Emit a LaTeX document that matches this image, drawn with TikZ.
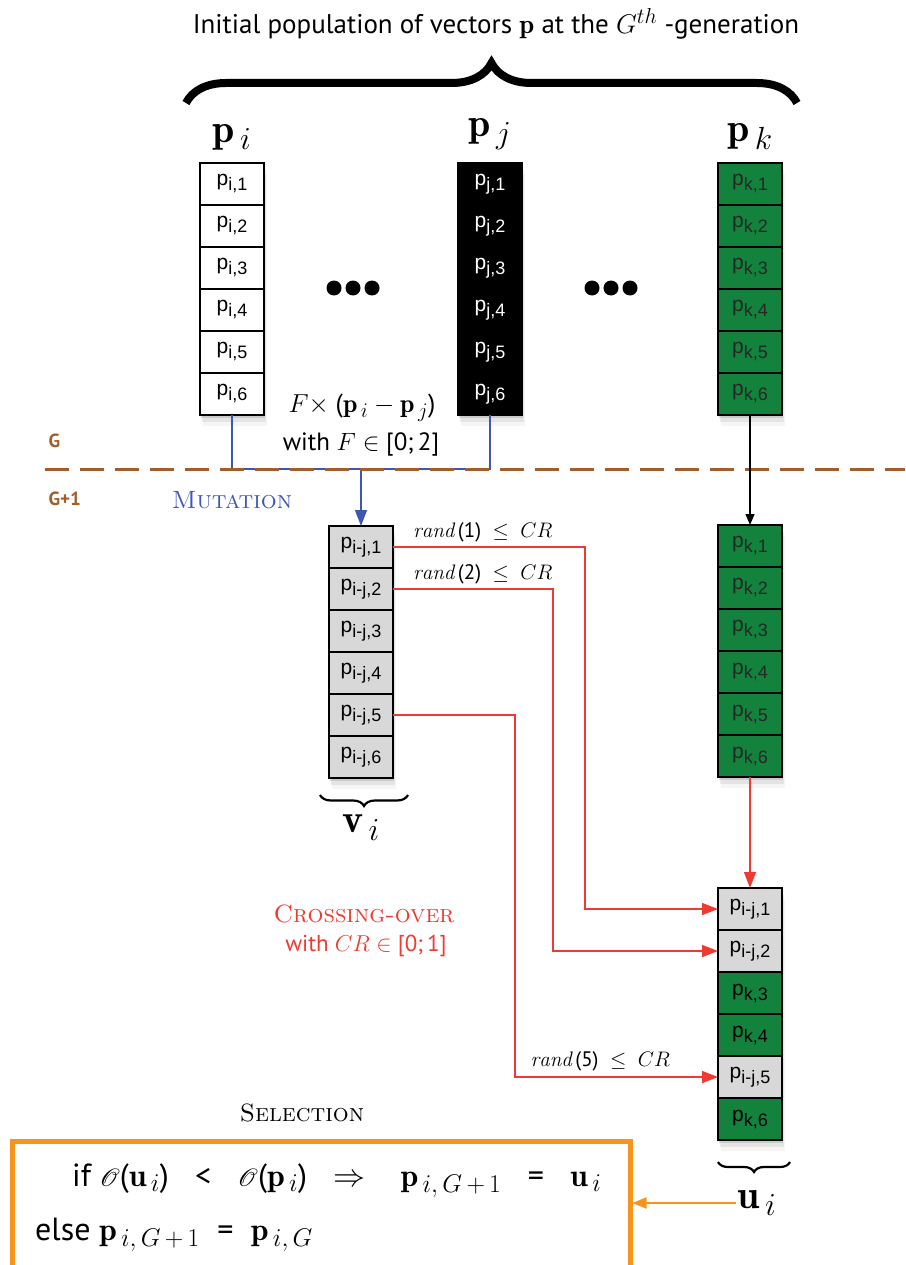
\RequirePackage{fix-cm}
\documentclass[tikz,border=0pt]{standalone}
\usepackage{amsmath}
\usepackage{mathrsfs}
\usepackage{fontspec}
\setsansfont{PT Sans}
\newfontfamily\cellfont{Liberation Sans}
\usepackage{xcolor}
\usepackage{tikz}
\usetikzlibrary{arrows.meta,positioning,calc,fit,backgrounds,shadows,decorations.pathreplacing}
\renewcommand{\defaultscriptratio}{.8}
\definecolor{genbrown}{RGB}{164,92,40}
\definecolor{mutblue}{RGB}{62,88,178}
\definecolor{crossred}{RGB}{238,58,48}
\definecolor{selorange}{RGB}{247,148,30}
\definecolor{popgreen}{RGB}{18,130,60}
\definecolor{cellgray}{RGB}{216,216,216}
\newcommand{\comp}[2]{p\raisebox{-5pt}{\fontsize{18}{18}\selectfont #1,#2}}
\newcommand{\randle}[1]{$\mathit{rand}$\,(#1)\; $\le$\; $CR$}
\tikzset{
  cell/.style={rectangle, draw=black, line width=1.3pt, outer sep=0pt, inner sep=0pt,
    minimum width=64pt, minimum height=42pt, font=\cellfont\fontsize{21}{21}\selectfont},
  wcell/.style={cell, fill=white},
  bcell/.style={cell, fill=black, text=white},
  gcell/.style={cell, fill=popgreen, text=black!85},
  lcell/.style={cell, fill=cellgray},
  colshade/.style={inner sep=0pt, outer sep=0pt, fill=white,
    drop shadow={shadow xshift=1pt, shadow yshift=-3pt, opacity=.25},
    drop shadow={shadow xshift=2pt, shadow yshift=-7pt, opacity=.15},
    drop shadow={shadow xshift=3pt, shadow yshift=-11pt, opacity=.08}},
  veclabel/.style={font=\fontsize{40}{40}\selectfont, inner sep=1pt},
  bigbrace/.style={decorate, decoration={brace, amplitude=#1}},
  mut/.style={draw=mutblue, line width=1.3pt},
  mutarrow/.style={mut, -{Triangle[length=16pt, width=12pt]}},
  xover/.style={draw=crossred, line width=1.3pt, -{Triangle[length=16pt, width=12pt]}},
  pass/.style={draw=black, line width=1.3pt, -{Triangle[length=11pt, width=9pt]}},
  selarrow/.style={draw=selorange, line width=2pt, -{Triangle[length=14pt, width=11pt]}},
  cond/.style={font=\sffamily\fontsize{21}{21}\selectfont, inner sep=1pt},
  gen/.style={font=\sffamily\bfseries\fontsize{19}{19}\selectfont, text=genbrown},
  phase/.style={font=\fontsize{25}{25}\selectfont, inner sep=1pt},
  gensep/.style={draw=genbrown, line width=3pt, dash pattern=on 24pt off 11pt},
  selbox/.style={rectangle, draw=selorange, line width=4.5pt, minimum width=618pt,
    minimum height=200pt},
  rule/.style={font=\sffamily\fontsize{32}{32}\selectfont, inner sep=0pt},
}

\begin{document}
\begin{tikzpicture}[x=1pt, y=-1pt]
  \useasboundingbox (0,0) rectangle (905,1265);
  \clip (0,0) rectangle (905,1265);

  % generation G
  \node[wcell] (pi1) at (232,184) {\comp{i}{1}};
  \node[bcell] (pj1) at (490,184) {\comp{j}{1}};
  \node[gcell] (pk1) at (750,184) {\comp{k}{1}};
  \foreach \n [remember=\n as \m (initially 1)] in {2,...,6} {
    \node[wcell, below=0pt of pi\m] (pi\n) {\comp{i}{\n}};
    \node[bcell, below=0pt of pj\m] (pj\n) {\comp{j}{\n}};
    \node[gcell, below=0pt of pk\m] (pk\n) {\comp{k}{\n}};
  }
  \node[veclabel, above=12pt of pi1] (pilab) {$\mathbf{p}_{\,i}$};
  \node[veclabel, above=12pt of pj1] (pjlab) {$\mathbf{p}_{\,j}$};
  \node[veclabel, above=12pt of pk1] (pklab) {$\mathbf{p}_{\,k}$};
  \foreach \dx in {-19,0,19} {
    \fill (353+\dx,288) circle (7.5pt);
    \fill (611+\dx,288) circle (7.5pt);
  }
  \node[font=\sffamily\fontsize{27}{27}\selectfont] (title) at (496,24)
    {Initial population of vectors $\mathbf{p}$ at the $G^{th}$ -generation};
  \draw[bigbrace=40pt, line width=8pt] (186,103) -- (797,103);

  % generation G+1
  \node[lcell] (vi1) at (361,547) {\comp{i-j}{1}};
  \node[gcell] (qk1) at (750,546) {\comp{k}{1}};
  \foreach \n [remember=\n as \m (initially 1)] in {2,...,6} {
    \node[lcell, below=0pt of vi\m] (vi\n) {\comp{i-j}{\n}};
    \node[gcell, below=0pt of qk\m] (qk\n) {\comp{k}{\n}};
  }
  \node[lcell] (ui1) at (750,909) {\comp{i-j}{1}};
  \foreach \n/\fc/\ix [remember=\n as \m (initially 1)] in
      {2/cellgray/i-j, 3/popgreen/k, 4/popgreen/k, 5/cellgray/i-j, 6/popgreen/k}
    \node[cell, fill=\fc, below=0pt of ui\m] (ui\n) {\comp{\ix}{\n}};

  \begin{scope}[on background layer]
    \foreach \c in {pi,pj,pk,vi,qk,ui}
      \node[colshade, fit=(\c1)(\c6)] {};
  \end{scope}

  % mutation
  \coordinate (genline) at (0,469);
  \coordinate (mutjoin) at (vi1.north |- genline);
  \draw[mut] (pi6.south) |- (mutjoin) -| (pj6.south);
  \draw[mutarrow] (mutjoin) -- (vi1.north);
  \node[cond, font=\sffamily\fontsize{26}{26}\selectfont] (scalef) at (362,408)
    {$F \times$ ($\mathbf{p}_{\,i} - \mathbf{p}_{\,j}$)};
  \node[cond, font=\sffamily\fontsize{25}{25}\selectfont] (scalefr) at (361,444)
    {with $F \in$ [0;\,2]};
  \coordinate (sepL) at (45,469);
  \coordinate (sepR) at (905,469);
  \draw[gensep] (sepL) -- (sepR);
  \node[gen, anchor=west] (glab) at (45,441) {G};
  \node[gen, anchor=west] (g1lab) at (45,499) {G+1};
  \node[phase, text=mutblue] (mutlab) at (232,500) {\textsc{Mutation}};
  \draw[pass] (pk6.south) -- (qk1.north);

  % crossing-over
  \draw[xover] (vi1.east) -| ([xshift=-133pt]ui1.west) -- (ui1.west);
  \draw[xover] (vi2.east) -| ([xshift=-165pt]ui2.west) -- (ui2.west);
  \draw[xover] (vi5.east) -| ([xshift=-203pt]ui5.west)
    -- node[cond, above=4pt, pos=0.42] (cr5) {\randle{5}} (ui5.west);
  \draw[xover] (qk6.south) -- (ui1.north);
  \node[cond, anchor=south west] (cr1) at ([xshift=19pt, yshift=4pt]vi1.east) {\randle{1}};
  \node[cond, anchor=south west] (cr2) at ([xshift=19pt, yshift=4pt]vi2.east) {\randle{2}};
  \node[phase, text=crossred, inner sep=0pt] (xlab) at (364,914) {\textsc{Crossing-over}};
  \node[cond, text=crossred, inner sep=0pt, font=\sffamily\fontsize{23}{23}\selectfont]
    (xcond) at (366,946) {with $CR \in$ [0;\,1]};

  \draw[bigbrace=11pt, line width=2.2pt] (408,795) -- (320,795);
  \node[veclabel, below=36pt of vi6] (vilab) {$\mathbf{v}_{\,i}$};

  % selection
  \draw[bigbrace=10pt, line width=2.2pt] (790,1162) -- (718,1162);
  \node[veclabel] (uilab) at (757,1203) {$\mathbf{u}_{\,i}$};
  \node[selbox, anchor=north west] (selb) at (10,1139) {};
  \node[phase] (sellab) at (302,1113) {\textsc{Selection}};
  \node[rule, anchor=base west] (ifrule) at (72,1186)
    {if $\mathscr{O}$($\mathbf{u}_{\,i}$)\;\; <\;\; $\mathscr{O}$($\mathbf{p}_{\,i}$)\;\;
     $\Rightarrow$\;\;\; $\mathbf{p}_{\,i,\,G\,+\,1}$\;\; =\;\; $\mathbf{u}_{\,i}$};
  \node[rule, anchor=base west] (elserule) at (35,1240)
    {else $\mathbf{p}_{\,i,\,G\,+\,1}$\; =\; $\mathbf{p}_{\,i,\,G}$};
  \draw[selarrow] (uilab.west) -- (selb.east |- uilab.west);
\end{tikzpicture}
\end{document}
